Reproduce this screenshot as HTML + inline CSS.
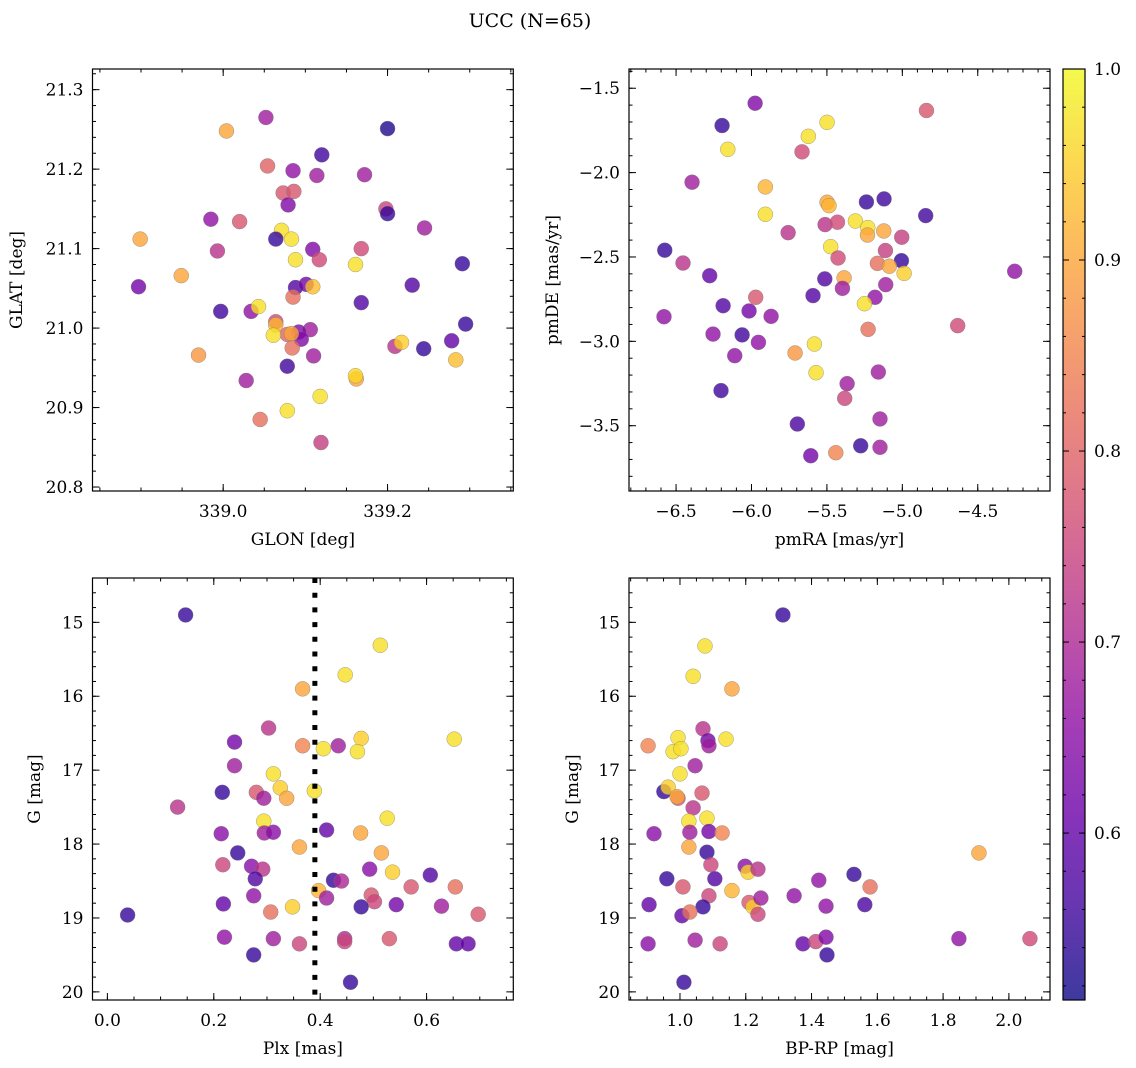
<!DOCTYPE html>
<html><head><meta charset="utf-8"><style>
html,body{margin:0;background:#fff;overflow:hidden;width:1136px;height:1068px}
svg{display:block;font-family:"DejaVu Serif","Liberation Serif",serif}
</style></head><body>
<svg id="fig" width="1136" height="1068" viewBox="0 0 1136 1068" xmlns="http://www.w3.org/2000/svg">
<rect width="1136" height="1068" fill="#fff"/>
<text x="530" y="27" font-size="19" text-anchor="middle">UCC (N=65)</text>
</svg>
<script>
// Panel 1: GLON / GLAT
const p1_glon=[339.052,339.004,339.200,339.120,339.054,339.085,339.114,339.172,339.073,339.086,339.079,339.198,339.200,338.985,339.020,339.245,339.071,339.064,339.083,338.899,338.993,339.109,339.168,339.088,339.117,339.161,339.291,338.949,338.897,339.230,339.088,339.101,339.109,339.085,339.168,338.997,339.034,339.043,339.064,339.064,339.295,339.106,339.092,339.095,339.078,339.061,339.083,339.084,339.209,339.217,339.244,339.278,338.970,339.110,339.283,339.078,339.162,339.161,339.028,339.118,339.078,339.045,339.119];
const p1_glat=[21.265,21.248,21.251,21.218,21.204,21.198,21.192,21.193,21.170,21.172,21.155,21.150,21.144,21.137,21.134,21.126,21.123,21.112,21.112,21.112,21.097,21.099,21.100,21.086,21.086,21.080,21.081,21.066,21.052,21.054,21.051,21.055,21.052,21.039,21.032,21.021,21.021,21.027,21.008,21.004,21.005,20.998,20.995,20.986,20.992,20.991,20.993,20.975,20.977,20.982,20.974,20.984,20.966,20.965,20.960,20.952,20.936,20.940,20.934,20.914,20.896,20.885,20.856];
const p1_prob=[.68,.9,.53,.56,.8,.66,.68,.68,.78,.78,.64,.75,.55,.66,.78,.68,.97,.55,.97,.9,.72,.64,.76,.97,.76,.97,.55,.9,.62,.58,.58,.62,.93,.82,.58,.56,.66,.97,.76,.92,.55,.68,.64,.64,.8,.97,.9,.82,.72,.95,.55,.6,.88,.68,.93,.56,.9,.96,.68,.97,.97,.82,.74];
// Panel 2: pmRA / pmDE
const p2_pmra=[-5.976,-4.840,-6.195,-5.499,-5.623,-6.157,-5.665,-6.394,-5.908,-5.499,-5.486,-5.238,-5.121,-4.845,-5.908,-5.512,-5.430,-5.311,-5.229,-5.231,-5.123,-5.004,-5.757,-6.575,-5.475,-5.426,-5.112,-5.006,-5.165,-5.086,-4.988,-6.454,-6.277,-4.255,-5.514,-5.386,-5.397,-5.110,-5.592,-5.181,-5.251,-5.972,-6.188,-6.016,-5.870,-6.580,-4.633,-5.227,-6.255,-6.062,-5.954,-6.111,-5.583,-5.711,-5.572,-5.159,-6.202,-5.366,-5.382,-5.696,-5.148,-5.607,-5.441,-5.276,-5.148];
const p2_pmde=[-1.589,-1.632,-1.721,-1.702,-1.785,-1.862,-1.877,-2.057,-2.085,-2.176,-2.196,-2.174,-2.156,-2.255,-2.247,-2.308,-2.294,-2.287,-2.326,-2.370,-2.346,-2.383,-2.356,-2.460,-2.439,-2.506,-2.462,-2.522,-2.538,-2.555,-2.597,-2.536,-2.611,-2.585,-2.630,-2.624,-2.686,-2.664,-2.729,-2.739,-2.777,-2.739,-2.789,-2.820,-2.852,-2.854,-2.907,-2.929,-2.957,-2.962,-3.006,-3.085,-3.016,-3.069,-3.186,-3.182,-3.292,-3.251,-3.338,-3.490,-3.460,-3.678,-3.660,-3.619,-3.628];
const p2_prob=[.64,.78,.55,.97,.97,.97,.76,.68,.92,.9,.92,.55,.56,.56,.97,.72,.76,.97,.97,.9,.9,.74,.72,.55,.97,.76,.74,.55,.82,.9,.95,.72,.6,.66,.58,.9,.68,.68,.58,.66,.97,.78,.58,.62,.66,.66,.76,.82,.66,.56,.66,.66,.97,.88,.97,.68,.56,.68,.75,.57,.68,.62,.85,.55,.68];
// Panel 3: Plx / G
const p3_plx=[0.147,0.513,0.447,0.367,0.303,0.239,0.367,0.406,0.434,0.477,0.470,0.652,0.239,0.312,0.325,0.216,0.280,0.294,0.337,0.389,0.132,0.294,0.526,0.214,0.295,0.312,0.412,0.476,0.361,0.245,0.515,0.217,0.271,0.292,0.493,0.536,0.278,0.425,0.440,0.607,0.571,0.654,0.397,0.275,0.412,0.496,0.502,0.218,0.307,0.348,0.477,0.543,0.628,0.697,0.038,0.220,0.312,0.361,0.446,0.446,0.530,0.656,0.678,0.275,0.457];
const p3_g=[14.90,15.31,15.71,15.90,16.43,16.62,16.67,16.71,16.67,16.57,16.75,16.58,16.94,17.05,17.24,17.30,17.30,17.38,17.38,17.28,17.50,17.69,17.65,17.86,17.85,17.84,17.81,17.85,18.04,18.12,18.12,18.28,18.30,18.34,18.34,18.38,18.47,18.49,18.50,18.42,18.58,18.58,18.63,18.70,18.73,18.69,18.78,18.81,18.92,18.85,18.85,18.82,18.84,18.95,18.96,19.26,19.28,19.35,19.28,19.32,19.28,19.35,19.35,19.50,19.87];
const p3_prob=[.55,.97,.97,.9,.72,.62,.85,.97,.68,.95,.97,.97,.68,.97,.95,.55,.78,.68,.9,.97,.72,.97,.97,.65,.68,.65,.6,.9,.9,.55,.9,.75,.65,.72,.65,.95,.58,.55,.7,.58,.78,.82,.92,.66,.68,.78,.75,.6,.82,.95,.55,.62,.68,.78,.55,.66,.68,.75,.7,.75,.78,.6,.6,.55,.55];
const plx_line=[0.39];
// Panel 4: BP-RP / G
const p4_bprp=[1.313,1.076,1.040,1.158,1.070,1.085,1.088,1.140,0.903,0.994,0.979,1.003,1.046,1.000,0.951,0.964,0.994,0.991,1.067,1.040,1.027,1.082,0.921,1.030,1.088,1.128,1.027,1.082,1.094,1.198,1.207,1.237,0.960,1.106,1.009,1.158,1.088,0.906,1.070,1.006,1.030,1.210,1.222,1.246,1.237,1.347,0.903,1.046,1.122,1.374,1.413,1.012,1.444,1.447,1.422,1.529,1.578,1.444,1.562,1.909,1.848,2.064];
const p4_g=[14.90,15.32,15.73,15.90,16.44,16.60,16.67,16.58,16.67,16.56,16.75,16.71,16.94,17.05,17.29,17.23,17.38,17.36,17.31,17.51,17.69,17.65,17.86,17.84,17.83,17.85,18.04,18.11,18.28,18.30,18.38,18.34,18.47,18.47,18.58,18.63,18.70,18.82,18.85,18.97,18.92,18.79,18.85,18.73,18.95,18.70,19.35,19.30,19.35,19.35,19.32,19.87,19.26,19.50,18.49,18.41,18.58,18.84,18.82,18.12,19.28,19.28];
const p4_prob=[.55,.97,.97,.9,.72,.62,.68,.97,.85,.97,.97,.97,.68,.97,.55,.95,.78,.9,.78,.72,.97,.97,.65,.68,.62,.85,.9,.55,.75,.65,.95,.72,.55,.58,.78,.92,.75,.6,.55,.6,.82,.78,.95,.68,.75,.66,.65,.68,.75,.6,.75,.55,.64,.55,.66,.55,.82,.66,.57,.9,.66,.76];
// Colorbar
const cb_ticks=[0.6,0.7,0.8,0.9,1.0];
const cb_range=[0.5126,1.0];

const NS="http://www.w3.org/2000/svg";
const svg=document.getElementById('fig');
function mk(tag,attrs,parent){const e=document.createElementNS(NS,tag);for(const k in attrs)e.setAttribute(k,attrs[k]);(parent||svg).appendChild(e);return e;}
const stops=['#0d0887','#41049d','#6a00a8','#8f0da4','#b12a90','#cc4778','#e16462','#f2844b','#fca636','#fcce25','#f0f921'];
function hex(h){return [1,3,5].map(i=>parseInt(h.substr(i,2),16));}
function plasma(t){t=Math.max(0,Math.min(1,t));const f=t*10,i=Math.min(9,Math.floor(f)),r=f-i;const a=hex(stops[i]),b=hex(stops[i+1]);return 'rgb('+a.map((v,k)=>Math.round(v+(b[k]-v)*r)).join(',')+')';}
function pcol(p){return plasma((p-cb_range[0])/(cb_range[1]-cb_range[0]));}
function fmt(v,d){const s=v.toFixed(d);return s.replace('-','\u2212');}
const FS=17;
const ALPHA=0.8;

function panel(cfg){
  const g=mk('g',{});
  
  
  const {x0,x1,y0,y1,xr,yr}=cfg;
  const sx=v=>x0+(v-xr[0])/(xr[1]-xr[0])*(x1-x0);
  const sy=cfg.inv?(v=>y0+(v-yr[0])/(yr[1]-yr[0])*(y1-y0)):(v=>y0+(yr[1]-v)/(yr[1]-yr[0])*(y1-y0));
  const clip=mk('clipPath',{id:'clip-'+cfg.name},g);
  mk('rect',{x:x0,y:y0,width:x1-x0,height:y1-y0},clip);
  const pts=mk('g',{'clip-path':'url(#clip-'+cfg.name+')'},g);
  
  
  for(let i=0;i<cfg.xs.length;i++){
    const c=mk('circle',{cx:sx(cfg.xs[i]),cy:sy(cfg.ys[i]),r:7.5,fill:pcol(cfg.ps[i]),'fill-opacity':ALPHA,stroke:'#777','stroke-width':0.5,'stroke-opacity':0.7},pts);
    
    
  }
  if(cfg.vline){for(const v of cfg.vline){
    const l=mk('line',{x1:sx(v),x2:sx(v),y1:y0,y2:y1,stroke:'#000','stroke-width':5,'stroke-dasharray':'5 9.7'},pts);
    
    
  }}
  const tk=mk('g',{stroke:'#000','stroke-width':1},g);
  function xt(step,len){const s=Math.ceil(xr[0]/step-1e-6);for(let k=s;k*step<=xr[1]+1e-9;k++){const x=sx(k*step);mk('line',{x1:x,x2:x,y1:y1,y2:y1-len},tk);mk('line',{x1:x,x2:x,y1:y0,y2:y0+len},tk);}}
  function yt(step,len){const s=Math.ceil(yr[0]/step-1e-6);for(let k=s;k*step<=yr[1]+1e-9;k++){const y=sy(k*step);mk('line',{x1:x0,x2:x0+len,y1:y,y2:y},tk);mk('line',{x1:x1,x2:x1-len,y1:y,y2:y},tk);}}
  xt(cfg.xminor,3.5);xt(cfg.xmajor,7);yt(cfg.yminor,3.5);yt(cfg.ymajor,7);
  mk('rect',{x:x0,y:y0,width:x1-x0,height:y1-y0,fill:'none',stroke:'#000','stroke-width':1.2},g);
  for(const v of cfg.xticks){const t=mk('text',{x:sx(v),y:y1+26,'font-size':FS,'text-anchor':'middle'},g);t.textContent=fmt(v,cfg.xd);}
  for(const v of cfg.yticks){const t=mk('text',{x:x0-9,y:sy(v)+6,'font-size':FS,'text-anchor':'end'},g);t.textContent=fmt(v,cfg.yd);}
  const xl=mk('text',{x:(x0+x1)/2,y:y1+54,'font-size':FS,'text-anchor':'middle'},g);xl.textContent=cfg.xlabel;
  
  const ylx=cfg.ylx, yly=(y0+y1)/2;
  const yl=mk('text',{x:ylx,y:yly,'font-size':FS,'text-anchor':'middle',transform:'rotate(-90 '+ylx+' '+yly+')'},g);yl.textContent=cfg.ylabel;
  
}
panel({name:'glon-glat-panel',x0:92.5,x1:513.3,y0:69,y1:491,xr:[338.841,339.353],yr:[20.795,21.326],xs:p1_glon,ys:p1_glat,ps:p1_prob,
  xmajor:0.2,xminor:0.05,ymajor:0.1,yminor:0.02,xticks:[339.0,339.2],yticks:[20.8,20.9,21.0,21.1,21.2,21.3],xd:1,yd:1,xlabel:'GLON [deg]',ylabel:'GLAT [deg]',ylx:22});
panel({name:'pm-panel',x0:629,x1:1050,y0:69,y1:491,xr:[-6.812,-4.021],yr:[-3.887,-1.386],xs:p2_pmra,ys:p2_pmde,ps:p2_prob,
  xmajor:0.5,xminor:0.1,ymajor:0.5,yminor:0.1,xticks:[-6.5,-6.0,-5.5,-5.0,-4.5],yticks:[-3.5,-3.0,-2.5,-2.0,-1.5],xd:1,yd:1,xlabel:'pmRA [mas/yr]',ylabel:'pmDE [mas/yr]',ylx:558});
panel({name:'plx-g-panel',x0:92.5,x1:513.3,y0:578,y1:1000,xr:[-0.028,0.763],yr:[14.40,20.11],xs:p3_plx,ys:p3_g,ps:p3_prob,vline:plx_line,inv:true,
  xmajor:0.2,xminor:0.05,ymajor:1,yminor:0.2,xticks:[0.0,0.2,0.4,0.6],yticks:[15,16,17,18,19,20],xd:1,yd:0,xlabel:'Plx [mas]',ylabel:'G [mag]',ylx:40});
panel({name:'cmd-panel',x0:629,x1:1050,y0:578,y1:1000,xr:[0.845,2.125],yr:[14.40,20.11],xs:p4_bprp,ys:p4_g,ps:p4_prob,inv:true,
  xmajor:0.2,xminor:0.05,ymajor:1,yminor:0.2,xticks:[1.0,1.2,1.4,1.6,1.8,2.0],yticks:[15,16,17,18,19,20],xd:1,yd:0,xlabel:'BP-RP [mag]',ylabel:'G [mag]',ylx:578});

// colorbar
(function(){
  const cx0=1063,cx1=1085,cy0=69,cy1=1000;
  const g=mk('g',{});
  
  
  const defs=mk('defs',{},g);
  const lg=mk('linearGradient',{id:'cbgrad',x1:0,y1:1,x2:0,y2:0},defs);
  for(let i=0;i<=20;i++){mk('stop',{offset:(i/20),'stop-color':plasma(i/20)},lg);}
  mk('rect',{x:cx0,y:cy0,width:cx1-cx0,height:cy1-cy0,fill:'url(#cbgrad)','fill-opacity':ALPHA},g);
  const cy=v=>cy1-(v-cb_range[0])/(cb_range[1]-cb_range[0])*(cy1-cy0);
  const tk=mk('g',{stroke:'#000','stroke-width':1},g);
  for(let k=26;k<=50;k++){const v=k*0.02;if(v<cb_range[0]||v>cb_range[1]+1e-9)continue;const y=cy(v);mk('line',{x1:cx0,x2:cx0+3,y1:y,y2:y},tk);mk('line',{x1:cx1,x2:cx1-3,y1:y,y2:y},tk);}
  for(const v of cb_ticks){const y=cy(v);mk('line',{x1:cx0,x2:cx0+6,y1:y,y2:y},tk);mk('line',{x1:cx1,x2:cx1-6,y1:y,y2:y},tk);
    const t=mk('text',{x:cx1+9,y:y+6,'font-size':FS},g);t.textContent=v.toFixed(1);
    }
  mk('rect',{x:cx0,y:cy0,width:cx1-cx0,height:cy1-cy0,fill:'none',stroke:'#000','stroke-width':1.2},g);
})();
</script>
</body></html>
